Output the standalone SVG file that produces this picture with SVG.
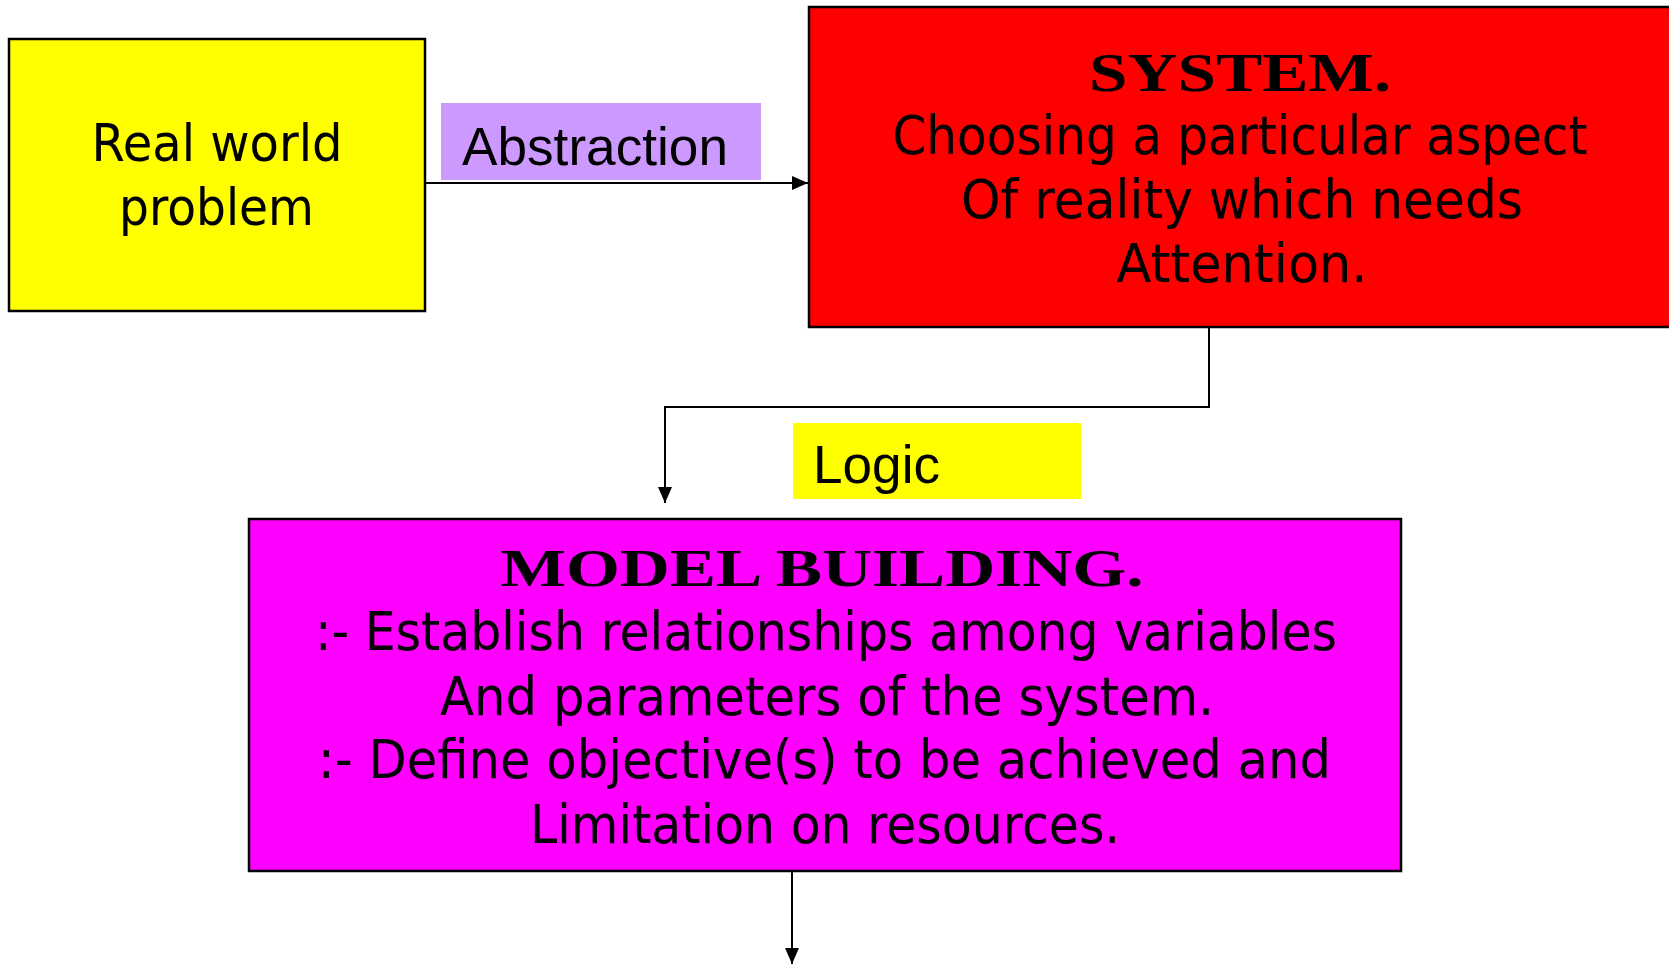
<svg xmlns="http://www.w3.org/2000/svg" width="1669" height="964" viewBox="0 0 1669 964">
<style>
.box{stroke:#000;stroke-width:2.5}
.comic{font-family:"Comic Sans MS","DejaVu Sans",sans-serif;fill:#000}
.arial{font-family:"Liberation Sans",Arial,sans-serif;fill:#000}
.head{font-family:"Liberation Serif","Times New Roman",serif;font-weight:bold;fill:#000}
.conn{stroke:#000;stroke-width:2;fill:none}
</style>
<defs>
<marker id="arr" viewBox="0 0 16 14" refX="16" refY="7" markerWidth="16" markerHeight="14" markerUnits="userSpaceOnUse" orient="auto">
<path d="M0,0 L16,7 L0,14 z" fill="#000"/>
</marker>
</defs>
<rect width="1669" height="964" fill="#fff"/>
<g id="connectors">
<line class="conn" x1="425" y1="183" x2="808" y2="183" marker-end="url(#arr)"/>
<polyline class="conn" points="1209,327 1209,407 665,407 665,503" marker-end="url(#arr)"/>
<line class="conn" x1="792" y1="871" x2="792" y2="964" marker-end="url(#arr)"/>
</g>
<g id="real-world">
<rect class="box" x="9" y="39" width="416" height="272" fill="#FFFF00"/>
<text class="comic" x="217" y="161" font-size="52" text-anchor="middle" textLength="251" lengthAdjust="spacingAndGlyphs">Real world</text>
<text class="comic" x="216.5" y="225" font-size="52" text-anchor="middle" textLength="195" lengthAdjust="spacingAndGlyphs">problem</text>
</g>
<g id="abstraction-label">
<rect x="441" y="103" width="320" height="77" fill="#CC99FF"/>
<text class="arial" x="462" y="165" font-size="53" textLength="266" lengthAdjust="spacingAndGlyphs">Abstraction</text>
</g>
<g id="system">
<rect class="box" x="809" y="7" width="870" height="320" fill="#FF0000"/>
<text class="head" x="1240" y="91" font-size="55" text-anchor="middle" textLength="302" lengthAdjust="spacingAndGlyphs">SYSTEM.</text>
<text class="comic" x="1240" y="154" font-size="54" text-anchor="middle" textLength="695" lengthAdjust="spacingAndGlyphs">Choosing a particular aspect</text>
<text class="comic" x="1242" y="218" font-size="54" text-anchor="middle" textLength="562" lengthAdjust="spacingAndGlyphs">Of reality which needs</text>
<text class="comic" x="1242" y="282" font-size="54" text-anchor="middle" textLength="251" lengthAdjust="spacingAndGlyphs">Attention.</text>
</g>
<g id="logic-label">
<rect x="793" y="423" width="288" height="76" fill="#FFFF00"/>
<text class="arial" x="813" y="483" font-size="53" textLength="127" lengthAdjust="spacingAndGlyphs">Logic</text>
</g>
<g id="model-building">
<rect class="box" x="249" y="519" width="1152" height="352" fill="#FF00FF"/>
<text class="head" x="822" y="586" font-size="53" text-anchor="middle" textLength="643" lengthAdjust="spacingAndGlyphs">MODEL BUILDING.</text>
<text class="comic" x="826" y="650" font-size="54" text-anchor="middle" textLength="1022" lengthAdjust="spacingAndGlyphs">:- Establish relationships among variables</text>
<text class="comic" x="827" y="715" font-size="54" text-anchor="middle" textLength="774" lengthAdjust="spacingAndGlyphs">And parameters of the system.</text>
<text class="comic" x="824.5" y="778" font-size="54" text-anchor="middle" textLength="1013" lengthAdjust="spacingAndGlyphs">:- Define objective(s) to be achieved and</text>
<text class="comic" x="825" y="843" font-size="54" text-anchor="middle" textLength="590" lengthAdjust="spacingAndGlyphs">Limitation on resources.</text>
</g>
</svg>
